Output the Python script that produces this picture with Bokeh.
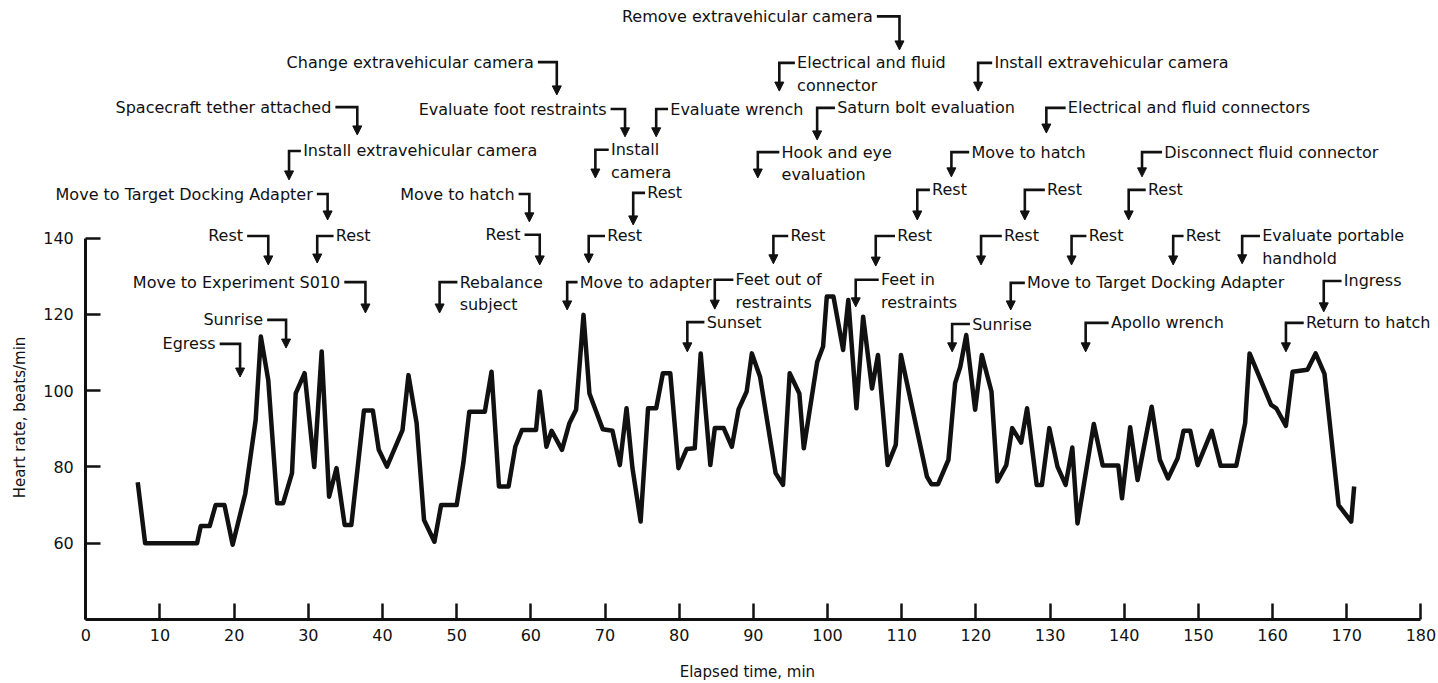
from math import pi
from bokeh.plotting import figure
from bokeh.models import (ColumnDataSource, FixedTicker, Label, LabelSet, Arrow,
                          NormalHead, Range1d)
from bokeh.core.properties import value
from bokeh.embed import file_html
from bokeh.resources import INLINE

# ---------------- data ----------------
time_min = [7, 8, 15, 15.5, 16.7, 17.5, 18.7, 19.8, 21.5, 22.9, 23.6, 24.6, 25.8, 26.6,
            27.8, 28.3, 29.5, 30.8, 31.8, 32.8, 33.8, 34.9, 35.8, 37.5, 38.7, 39.5, 40.6,
            42.7, 43.5, 44.6, 45.6, 47.0, 47.9, 50.0, 50.9, 51.7, 53.8, 54.7, 55.7, 57.0,
            57.9, 58.8, 60.7, 61.2, 62.1, 62.8, 64.2, 65.2, 66.1, 67.1, 67.9, 69.7, 71.0,
            72.0, 72.9, 73.7, 74.8, 75.8, 76.9, 77.8, 78.8, 79.9, 81.0, 82.1, 82.9, 84.2,
            84.8, 86.0, 87.1, 88.0, 89.1, 89.8, 90.9, 93.0, 94.0, 94.9, 96.2, 96.8, 98.6,
            99.4, 99.9, 100.8, 102.1, 102.8, 103.9, 104.8, 106.0, 106.8, 108.1, 109.2,
            109.9, 113.4, 114.0, 114.9, 116.3, 117.2, 117.9, 118.7, 119.9, 120.8, 122.1,
            122.9, 124.1, 124.9, 126.1, 126.9, 128.2, 128.9, 129.9, 131.0, 132.1, 133.0,
            133.7, 135.9, 137.1, 139.2, 139.7, 140.8, 141.8, 143.7, 144.8, 145.9, 147.2,
            148.0, 148.9, 149.9, 151.8, 153.0, 155.1, 156.3, 156.9, 159.8, 160.5, 161.8,
            162.7, 164.7, 165.8, 167.0, 168.9, 170.6, 171.0]
heart_rate = [76, 60, 60, 64.5, 64.5, 70, 70, 59.6, 73, 92.3, 114.2, 102.8, 70.5, 70.5,
              78.4, 99.3, 104.6, 80, 110.3, 72.2, 79.7, 64.8, 64.8, 94.8, 94.8, 84.5, 80.1,
              89.7, 104.1, 91.5, 66.1, 60.4, 70, 70, 81, 94.5, 94.5, 105, 74.9, 74.9,
              85.3, 89.7, 89.7, 99.8, 85.3, 89.5, 84.5, 91.5, 95, 119.9, 99.3, 89.9, 89.5,
              80.5, 95.4, 79.7, 65.7, 95.4, 95.4, 104.6, 104.6, 79.7, 84.7, 84.9, 109.8, 80.5,
              90.2, 90.2, 85.3, 95.1, 99.8, 109.8, 103.7, 78.4, 75.3, 104.6, 99.3, 84.9, 107.5,
              111.6, 124.7, 124.7, 110.7, 123.8, 95.4, 119.4, 100.6, 109.4, 80.5, 85.8,
              109.4, 77.5, 75.5, 75.5, 81.9, 102, 106.3, 114.6, 95, 109.4, 99.8,
              76.2, 80.5, 90.2, 86.4, 95.4, 75.3, 75.3, 90.2, 80.1, 75.3, 85.1,
              65.2, 91.3, 80.4, 80.4, 71.8, 90.4, 76.6, 95.8, 81.9, 77, 82.3,
              89.5, 89.5, 80.5, 89.5, 80.3, 80.3, 91.5, 109.8, 96.3, 95.4, 90.8,
              105, 105.5, 109.8, 104.4, 70, 65.7, 74.9]

x_ticks = list(range(0, 181, 10))
y_ticks = [60, 80, 100, 120, 140]

# event annotations: text, side ("R": text left of hook, "L": hook left of text),
# arrow time, text anchor time, label level, arrow tip level
ann_text = ["Remove extravehicular camera", "Change extravehicular camera",
            "Spacecraft tether attached", "Evaluate foot restraints",
            "Move to Target Docking Adapter", "Move to hatch", "Rest", "Rest",
            "Move to Experiment S010", "Sunrise", "Egress",
            "Electrical and fluid\nconnector", "Install extravehicular camera",
            "Evaluate wrench", "Saturn bolt evaluation", "Electrical and fluid connectors",
            "Install extravehicular camera", "Install\ncamera", "Hook and eye\nevaluation",
            "Move to hatch", "Disconnect fluid connector",
            "Rest", "Rest", "Rest", "Rest",
            "Rest", "Rest", "Rest", "Rest", "Rest", "Rest", "Rest",
            "Evaluate portable\nhandhold",
            "Rebalance\nsubject", "Move to adapter", "Feet out of\nrestraints",
            "Feet in\nrestraints", "Move to Target Docking Adapter", "Ingress",
            "Sunset", "Sunrise", "Apollo wrench", "Return to hatch"]
ann_side = ["R"] * 11 + ["L"] * 32
ann_arrow_x = [109.7, 63.5, 36.6, 72.7, 32.6, 59.8, 24.6, 61.2, 37.7, 27.0, 20.8,
               93.5, 120.3, 76.9, 98.6, 129.5, 27.4, 68.7, 90.6, 116.7, 142.4,
               73.8, 112.1, 126.6, 140.6,
               31.2, 67.8, 92.7, 106.5, 120.7, 132.9, 146.6, 155.9,
               47.7, 64.9, 84.8, 103.8, 124.7, 166.9,
               81.1, 116.8, 134.8, 161.8]
ann_text_x = [106.1, 60.4, 33.1, 70.2, 30.6, 57.8, 21.2, 58.6, 34.3, 23.9, 17.5,
              95.9, 122.5, 78.8, 101.3, 132.4, 29.3, 70.8, 93.8, 119.4, 145.4,
              75.7, 114.1, 129.6, 143.2,
              33.7, 70.3, 95.0, 109.4, 123.8, 135.2, 148.3, 158.6,
              50.4, 66.6, 87.6, 107.2, 126.9, 169.6,
              83.7, 119.5, 138.2, 164.5]
ann_y = [198.2, 186.2, 174.4, 173.9, 151.6, 151.6, 140.6, 140.9, 128.5, 118.6, 112.3,
         186.0, 186.0, 173.9, 174.2, 174.2, 162.9, 163.2, 162.6, 162.6, 162.6,
         151.9, 152.7, 152.7, 152.7,
         140.6, 140.6, 140.6, 140.6, 140.6, 140.6, 140.6, 140.6,
         128.5, 128.5, 129.1, 129.1, 128.3, 128.8,
         118.0, 117.5, 117.8, 117.8]
ann_tip_y = [189.4, 177.6, 167.1, 166.6, 144.8, 144.3, 133.0, 133.0, 120.4, 111.2, 103.6,
             178.6, 178.6, 166.6, 165.8, 167.6, 155.3, 155.8, 155.8, 156.1, 156.1,
             143.5, 144.8, 144.8, 144.8,
             133.5, 133.5, 133.3, 132.7, 133.0, 133.0, 133.0, 133.3,
             120.4, 121.2, 121.4, 122.0, 121.2, 120.7,
             110.2, 110.2, 110.2, 110.2]

# ---------------- figure ----------------
FONT = "DejaVu Sans"
INK = "#111111"

p = figure(width=1436, height=680, x_range=Range1d(-11.5, 182.1),
           y_range=Range1d(24.0, 202.36),
           output_backend="svg", toolbar_location=None,
           min_border_left=0, min_border_right=0, min_border_top=0, min_border_bottom=0)
p.outline_line_color = None
p.grid.visible = False
p.background_fill_color = "white"

for ax in (p.xaxis[0], p.yaxis[0]):
    ax.axis_line_width = 3
    ax.axis_line_color = INK
    ax.major_tick_line_width = 2.5
    ax.major_tick_line_color = INK
    ax.major_tick_out = 0
    ax.minor_tick_in = 0
    ax.minor_tick_out = 0
    ax.major_label_text_font = FONT
    ax.major_label_text_font_size = "16px"
    ax.major_label_text_color = INK

p.xaxis.fixed_location = 40
p.xaxis.bounds = (0, 180)
p.xaxis.ticker = FixedTicker(ticks=x_ticks, minor_ticks=[])
p.xaxis.major_tick_in = 16
p.xaxis.major_label_standoff = 10

p.yaxis.fixed_location = 0
p.yaxis.bounds = (40, 140)
p.yaxis.ticker = FixedTicker(ticks=y_ticks, minor_ticks=[])
p.yaxis.major_tick_in = 15
p.yaxis.major_label_standoff = 12

# heart-rate trace
p.line(time_min, heart_rate, line_width=4.5, line_color=INK, line_join="round")

# annotation hooks
hx, hy = [], []
for side, axx, tx, yy, tip in zip(ann_side, ann_arrow_x, ann_text_x, ann_y, ann_tip_y):
    start = tx + 0.55 if side == "R" else tx - 0.3
    hx.append([start, axx, axx])
    hy.append([yy, yy, tip + 1.5])
p.multi_line(hx, hy, line_width=2.6, line_color=INK, line_join="miter", line_cap="butt")

arrow_src = ColumnDataSource(dict(x0=ann_arrow_x, y0=[t + 2.0 for t in ann_tip_y],
                                  x1=ann_arrow_x, y1=ann_tip_y))
p.add_layout(Arrow(x_start="x0", y_start="y0", x_end="x1", y_end="y1", source=arrow_src,
                   line_width=2.6, line_color=INK,
                   end=NormalHead(size=9, fill_color=INK, line_color=INK, line_width=1)))

# annotation texts (one row per line)
rows = {"R": dict(x=[], y=[], text=[]), "L": dict(x=[], y=[], text=[])}
for txt, side, tx, yy in zip(ann_text, ann_side, ann_text_x, ann_y):
    for i, line in enumerate(txt.split("\n")):
        rows[side]["x"].append(tx)
        rows[side]["y"].append(yy - 5.9 * i)
        rows[side]["text"].append(line)

for side, align in (("R", "right"), ("L", "left")):
    p.add_layout(LabelSet(x="x", y="y", text="text", source=ColumnDataSource(rows[side]),
                          text_align=value(align), text_baseline=value("middle"),
                          text_font=value(FONT), text_font_size=value("16px"),
                          text_color=value(INK)))

# axis titles
p.add_layout(Label(x=-8.9, y=93, x_units="data", y_units="data",
                   text="Heart rate, beats/min", angle=pi / 2, text_align="center",
                   text_baseline="middle", text_font=FONT, text_font_size="15px",
                   text_color=INK))
p.add_layout(Label(x=89.2, y=26.2, x_units="data", y_units="data",
                   text="Elapsed time, min", text_align="center",
                   text_baseline="middle", text_font=FONT, text_font_size="15px",
                   text_color=INK))

open("out.html", "w").write(file_html(p, INLINE))
